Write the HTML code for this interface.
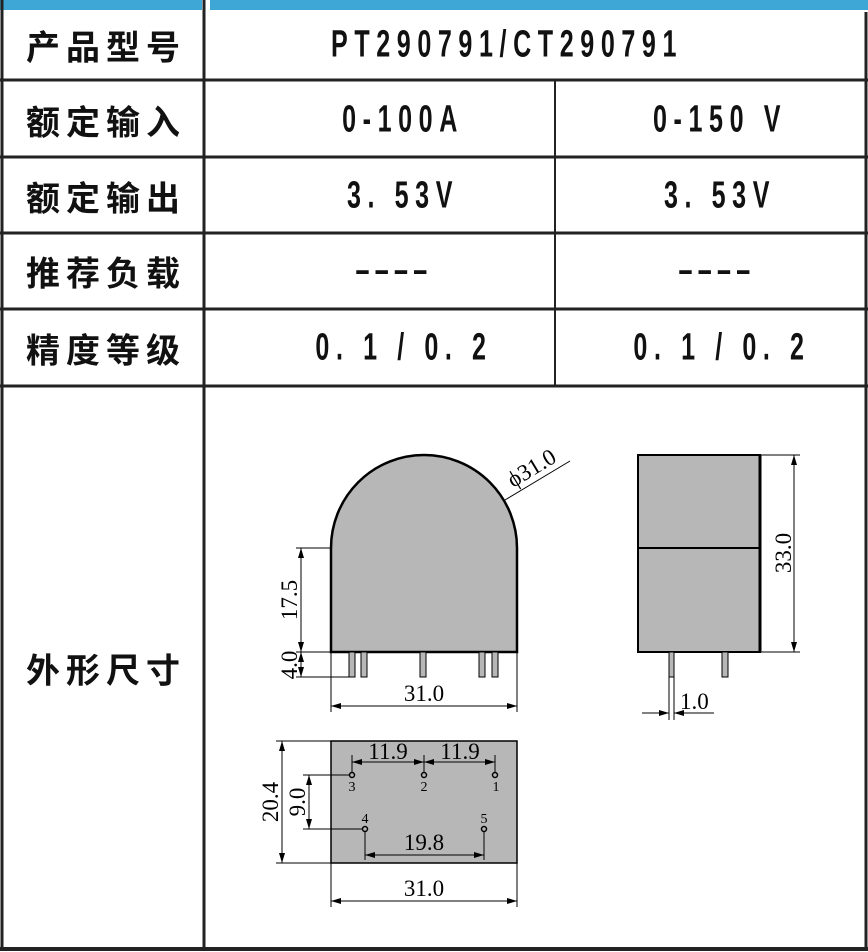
<!DOCTYPE html>
<html><head><meta charset="utf-8"><style>
html,body{margin:0;padding:0;background:#fff;}
body{width:868px;height:952px;position:relative;overflow:hidden;}
.t{position:absolute;font-family:"Liberation Sans","Noto Sans CJK SC",sans-serif;color:#111;white-space:nowrap;}
.lab{font-size:34px;font-weight:bold;letter-spacing:6px;transform:translate(-50%,-50%);}
.val{font-size:38px;font-weight:bold;letter-spacing:10px;transform:translate(-50%,-50%) scaleX(0.66);}
</style></head><body>
<svg width="868" height="952" style="position:absolute;left:0;top:0">
<rect x="0" y="0" width="202" height="10" fill="#3fa7d6"/>
<rect x="210" y="0" width="658" height="10" fill="#3fa7d6"/>
<g stroke="#222" stroke-width="3" fill="none">
<line x1="2" y1="0" x2="2" y2="950"/>
<line x1="204" y1="0" x2="204" y2="950"/>
<line x1="866" y1="12" x2="866" y2="950"/>
<line x1="0" y1="80" x2="868" y2="80"/>
<line x1="0" y1="157" x2="868" y2="157"/>
<line x1="0" y1="233" x2="868" y2="233"/>
<line x1="0" y1="309" x2="868" y2="309"/>
<line x1="0" y1="386" x2="868" y2="386"/>
<line x1="0" y1="949" x2="868" y2="949" stroke-width="4"/>
</g>
<line x1="555" y1="80" x2="555" y2="386" stroke="#222" stroke-width="2"/>
<defs><marker id="a" viewBox="0 0 10 6" refX="10" refY="3" markerWidth="10" markerHeight="6" orient="auto-start-reverse" markerUnits="userSpaceOnUse"><path d="M0,0L10,3L0,6z" fill="#000"/></marker></defs>
<path d="M331,652 L331,548 A93,93 0 0 1 517,548 L517,652 Z" fill="#b6b7b6" stroke="#000" stroke-width="2.5"/>
<g fill="#b6b7b6" stroke="#000" stroke-width="1">
<rect x="349" y="652" width="6" height="25"/><rect x="361" y="652" width="6" height="25"/><rect x="420" y="652" width="6" height="25"/><rect x="479" y="652" width="6" height="25"/><rect x="492" y="652" width="6" height="25"/>
</g>
<g stroke="#000" stroke-width="1" fill="none">
<line x1="296" y1="548" x2="331" y2="548"/>
<line x1="296" y1="652" x2="331" y2="652"/>
<line x1="296" y1="677" x2="350" y2="677"/>
<line x1="301" y1="548" x2="301" y2="652" marker-start="url(#a)" marker-end="url(#a)"/>
<line x1="301" y1="652" x2="301" y2="677" marker-start="url(#a)" marker-end="url(#a)"/>
<line x1="331" y1="652" x2="331" y2="712"/><line x1="517" y1="652" x2="517" y2="712"/>
<line x1="331" y1="706" x2="517" y2="706" marker-start="url(#a)" marker-end="url(#a)"/>
<line x1="505" y1="500" x2="570" y2="461"/>
</g>
<g font-family="Liberation Serif,serif" font-size="23" fill="#000">
<text x="424" y="701" text-anchor="middle">31.0</text>
<text transform="translate(297,600) rotate(-90)" text-anchor="middle">17.5</text>
<text transform="translate(297,665) rotate(-90)" text-anchor="middle">4.0</text>
<text transform="translate(513,488) rotate(-31)">ϕ31.0</text>
</g>
<rect x="638" y="455" width="122" height="197" fill="#b6b7b6" stroke="#000" stroke-width="2"/>
<line x1="638" y1="548" x2="760" y2="548" stroke="#000" stroke-width="2"/>
<line x1="760" y1="455" x2="760" y2="652" stroke="#000" stroke-width="3"/>
<g fill="#b6b7b6" stroke="#000" stroke-width="1"><rect x="669" y="652" width="5" height="25"/><rect x="722" y="652" width="6" height="25"/></g>
<g stroke="#000" stroke-width="1" fill="none">
<line x1="760" y1="455" x2="800" y2="455"/><line x1="760" y1="652" x2="800" y2="652"/>
<line x1="794" y1="455" x2="794" y2="652" marker-start="url(#a)" marker-end="url(#a)"/>
<line x1="669" y1="677" x2="669" y2="720"/><line x1="674" y1="677" x2="674" y2="720"/>
<line x1="642" y1="713" x2="669" y2="713" marker-end="url(#a)"/>
<line x1="714" y1="713" x2="674" y2="713" marker-end="url(#a)"/>
</g>
<g font-family="Liberation Serif,serif" font-size="23" fill="#000">
<text transform="translate(791,553) rotate(-90)" text-anchor="middle">33.0</text>
<text x="680" y="709">1.0</text>
</g>
<rect x="331" y="741" width="186" height="122" fill="#b6b7b6" stroke="#000" stroke-width="1.5"/>
<g stroke="#000" stroke-width="1" fill="none">
<circle cx="352" cy="775" r="2.5" stroke-width="1.5"/><circle cx="424" cy="775" r="2.5" stroke-width="1.5"/><circle cx="495" cy="775" r="2.5" stroke-width="1.5"/>
<circle cx="365" cy="829" r="2.5" stroke-width="1.5"/><circle cx="484" cy="829" r="2.5" stroke-width="1.5"/>
<line x1="352" y1="755" x2="352" y2="772"/><line x1="424" y1="755" x2="424" y2="772"/><line x1="495" y1="755" x2="495" y2="772"/>
<line x1="352" y1="762" x2="424" y2="762" marker-start="url(#a)" marker-end="url(#a)"/>
<line x1="424" y1="762" x2="495" y2="762" marker-start="url(#a)" marker-end="url(#a)"/>
<line x1="303" y1="775" x2="349" y2="775"/><line x1="303" y1="829" x2="362" y2="829"/>
<line x1="309" y1="775" x2="309" y2="829" marker-start="url(#a)" marker-end="url(#a)"/>
<line x1="276" y1="741" x2="331" y2="741"/><line x1="276" y1="863" x2="331" y2="863"/>
<line x1="282" y1="741" x2="282" y2="863" marker-start="url(#a)" marker-end="url(#a)"/>
<line x1="365" y1="832" x2="365" y2="860"/><line x1="484" y1="832" x2="484" y2="860"/>
<line x1="365" y1="855" x2="484" y2="855" marker-start="url(#a)" marker-end="url(#a)"/>
<line x1="331" y1="863" x2="331" y2="907"/><line x1="517" y1="863" x2="517" y2="907"/>
<line x1="331" y1="901" x2="517" y2="901" marker-start="url(#a)" marker-end="url(#a)"/>
</g>
<g font-family="Liberation Serif,serif" font-size="23" fill="#000">
<text x="388" y="759" text-anchor="middle">11.9</text>
<text x="460" y="759" text-anchor="middle">11.9</text>
<text x="424" y="850" text-anchor="middle">19.8</text>
<text x="424" y="896" text-anchor="middle">31.0</text>
<text transform="translate(305,802) rotate(-90)" text-anchor="middle">9.0</text>
<text transform="translate(278,802) rotate(-90)" text-anchor="middle">20.4</text>
</g>
<g font-family="Liberation Serif,serif" font-size="14" fill="#000" text-anchor="middle">
<text x="352" y="791">3</text><text x="424" y="791">2</text><text x="496" y="791">1</text>
<text x="365" y="823">4</text><text x="484" y="823">5</text>
</g>
</svg>
<div class="t lab" style="left:106px;top:45px">产品型号</div>
<div class="t lab" style="left:106px;top:120px">额定输入</div>
<div class="t lab" style="left:106px;top:196px">额定输出</div>
<div class="t lab" style="left:106px;top:271px">推荐负载</div>
<div class="t lab" style="left:106px;top:348px">精度等级</div>
<div class="t lab" style="left:106px;top:668px">外形尺寸</div>
<div class="t val" style="left:507px;top:45px">PT290791/CT290791</div>
<div class="t val" style="left:403px;top:120px">0-100A</div>
<div class="t val" style="left:720px;top:120px">0-150 V</div>
<div class="t val" style="left:403px;top:196px">3. 53V</div>
<div class="t val" style="left:720px;top:196px">3. 53V</div>
<div class="t val" style="left:394px;top:271px;letter-spacing:8px">––––</div>
<div class="t val" style="left:717px;top:271px;letter-spacing:8px">––––</div>
<div class="t val" style="left:404px;top:348px">0. 1 / 0. 2</div>
<div class="t val" style="left:722px;top:348px">0. 1 / 0. 2</div>
</body></html>
